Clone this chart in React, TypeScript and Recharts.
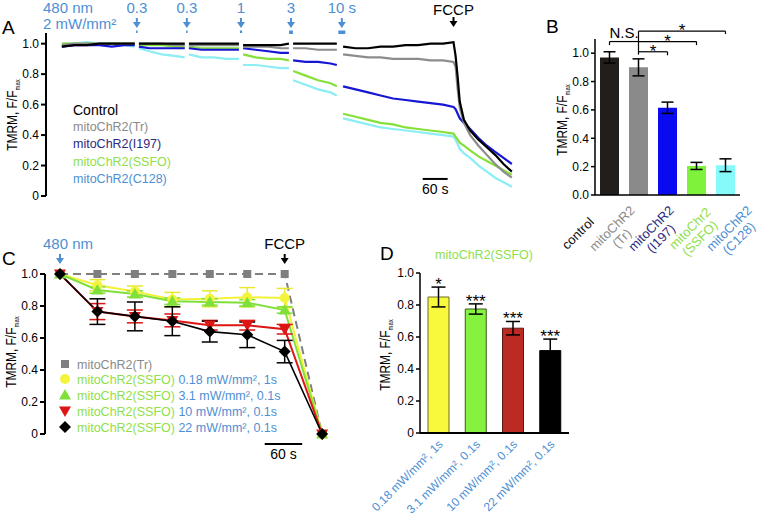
import React from "react";
import {
  LineChart,
  ComposedChart,
  Line,
  Bar,
  XAxis,
  YAxis,
  ErrorBar,
  Cell,
  LabelList,
  ReferenceDot,
  ReferenceLine,
} from "recharts";

const FONT = "'Liberation Sans', Arial, Helvetica, sans-serif";
const SKY = "#4e8fd3";
const LIME = "#8fe04a";
const NAVY = "#2c2a80";
const GREY = "#8a8a8a";

// ---- A: TMRM traces, time in s (null = gap at a light pulse)
const timeA = [0, 30, 60, 90, 120, 150, 175, 180, 185, 210, 240, 270, 295, 300, 305, 335, 365, 395, 425, 430, 435, 465, 495, 525, 545, 550, 555, 585, 615, 645, 660, 670, 675, 705, 735, 765, 795, 825, 855, 885, 915, 940, 945, 950, 955, 965, 980, 1000, 1020, 1040, 1060, 1080];
const controlA = [0.98, 0.99, 0.99, 1.0, 1.0, 1.0, 1.0, null, 1.0, 1.0, 1.0, 1.0, 1.0, null, 1.0, 1.0, 1.0, 1.0, 1.0, null, 0.99, 0.99, 0.99, 0.99, 1.0, null, 1.0, 1.0, 1.0, 1.0, 1.0, null, 0.98, 0.97, 0.97, 0.98, 0.98, 0.99, 0.99, 1.0, 1.0, 1.01, 0.92, 0.78, 0.62, 0.5, 0.43, 0.37, 0.32, 0.27, 0.21, 0.16];
const trA = [0.99, 1.0, 1.0, 1.0, 1.0, 1.0, 1.0, null, 1.0, 1.0, 1.0, 0.99, 0.99, null, 0.99, 0.99, 0.99, 0.99, 0.99, null, 0.98, 0.98, 0.98, 0.97, 0.97, null, 0.97, 0.97, 0.96, 0.96, 0.96, null, 0.93, 0.92, 0.91, 0.91, 0.9, 0.9, 0.9, 0.89, 0.89, 0.88, 0.85, 0.7, 0.58, 0.48, 0.4, 0.33, 0.27, 0.21, 0.16, 0.12];
const i197A = [0.98, 0.99, 0.99, 0.99, 0.98, 0.99, 0.99, null, 0.98, 0.97, 0.97, 0.97, 0.97, null, 0.97, 0.96, 0.96, 0.96, 0.96, null, 0.97, 0.96, 0.95, 0.94, 0.94, null, 0.89, 0.88, 0.88, 0.87, 0.86, null, 0.72, 0.7, 0.68, 0.66, 0.64, 0.63, 0.62, 0.61, 0.6, 0.585, 0.57, 0.54, 0.51, 0.48, 0.44, 0.38, 0.33, 0.29, 0.25, 0.21];
const ssfoA = [1.0, 1.0, 1.0, 1.0, 1.0, 1.0, 1.0, null, 0.99, 0.99, 0.99, 0.98, 0.98, null, 0.98, 0.97, 0.97, 0.97, 0.97, null, 0.93, 0.91, 0.9, 0.9, 0.89, null, 0.82, 0.79, 0.76, 0.74, 0.72, null, 0.54, 0.52, 0.5, 0.48, 0.47, 0.45, 0.44, 0.43, 0.42, 0.41, 0.39, 0.37, 0.35, 0.33, 0.3, 0.26, 0.23, 0.2, 0.17, 0.14];
const c128A = [1.0, 1.0, 1.01, 1.0, 1.0, 0.99, 0.98, null, 0.97, 0.95, 0.93, 0.92, 0.91, null, 0.93, 0.91, 0.91, 0.9, 0.9, null, 0.86, 0.86, 0.85, 0.84, 0.84, null, 0.76, 0.73, 0.7, 0.68, 0.66, null, 0.51, 0.49, 0.47, 0.45, 0.44, 0.43, 0.42, 0.41, 0.4, 0.39, 0.37, 0.34, 0.31, 0.28, 0.25, 0.2, 0.16, 0.12, 0.09, 0.06];

const stimTimes = [180, 300, 430, 550, 672];
const stimLabels = ["0.3", "0.3", "1", "3", "10 s"];
const stimDur = [0.3, 0.3, 1, 3, 10];
const fccpTimeA = 940;

const legendA = ["Control", "mitoChR2(Tr)", "mitoChR2(I197)", "mitoChR2(SSFO)", "mitoChR2(C128)"];

// ---- B: end-of-protocol TMRM
const bIds = ["control", "Tr", "I197", "SSFO", "C128"];
const bTickText = [["control"], ["mitoChR2", "(Tr)"], ["mitoChR2", "(I197)"], ["mitoChr2", "(SSFO)"], ["mitoChR2", "(C128)"]];
const bMeans = [0.97, 0.9, 0.615, 0.205, 0.21];
const bSem = [0.04, 0.06, 0.04, 0.025, 0.045];

// ---- C: SSFO at several intensities, time in s
const timeC = [0, 60, 120, 180, 240, 300, 360, 420];
const trC = [1, 1, 1, 1, 1, 1, 1, 0];
const yelC = [1, 0.93, 0.89, 0.84, 0.845, 0.855, 0.85, 0];
const yelErr = [0, 0.035, 0.035, 0.045, 0.05, 0.06, 0.06, 0];
const grnC = [1, 0.9, 0.875, 0.83, 0.825, 0.82, 0.775, 0];
const grnErr = [0, 0.02, 0.02, 0.02, 0.02, 0.02, 0.02, 0];
const redC = [1, 0.765, 0.735, 0.71, 0.68, 0.68, 0.655, 0];
const redErr = [0, 0.05, 0.04, 0.04, 0.03, 0.03, 0.03, 0];
const blkC = [1, 0.765, 0.735, 0.705, 0.64, 0.62, 0.515, 0];
const blkErr = [0, 0.08, 0.09, 0.09, 0.065, 0.08, 0.07, 0];
const fccpTimeC = 360;
const doseLabels = ["0.18 mW/mm\u00b2, 1s", "3.1 mW/mm\u00b2, 0.1s", "10 mW/mm\u00b2, 0.1s", "22 mW/mm\u00b2, 0.1s"];

// ---- D: SSFO summary
const dMeans = [0.85, 0.775, 0.655, 0.515];
const dSem = [0.062, 0.032, 0.042, 0.072];
const dStars = ["*", "***", "***", "***"];

const yTicks = [0, 0.2, 0.4, 0.6, 0.8, 1.0];
const fmt0 = (v: number) => (v === 0 ? "0" : v.toFixed(1));
const axisTick = { fill: "#000", fontSize: 12, fontFamily: FONT };

const traceColors: Record<string, string> = {
  c128: "#8aeef4",
  ssfo: "#86e03c",
  i197: "#1616d4",
  tr: "#8c8c8c",
  control: "#000000",
};
const legendColorsA = ["#000", GREY, NAVY, LIME, SKY];
const bFill = ["#221e1b", "#8a8a8a", "#0a0af0", "#7ff23c", "#86fafa"];
const bTickColor = ["#111", GREY, NAVY, LIME, SKY];
const dFill = ["#f8f83c", "#84f23e", "#bb2b22", "#000"];
const dStroke = ["#6d6a2a", "#3d5a20", "#5a1a14", "#000"];

// markers for panel C
const square = (cx: number, cy: number, k?: any) => <rect key={k} x={cx - 4} y={cy - 4} width={8} height={8} fill="#7f7f7f" />;
const circle = (cx: number, cy: number, k?: any) => <circle key={k} cx={cx} cy={cy} r={5} fill="#f4f43c" />;
const triUp = (cx: number, cy: number, k?: any) => <path key={k} d={`M${cx},${cy - 6}L${cx + 6},${cy + 4.5}L${cx - 6},${cy + 4.5}Z`} fill="#7fe03a" />;
const triDown = (cx: number, cy: number, k?: any) => <path key={k} d={`M${cx},${cy + 6}L${cx + 6},${cy - 4.5}L${cx - 6},${cy - 4.5}Z`} fill="#dd1515" />;
const diamond = (cx: number, cy: number, k?: any) => <path key={k} d={`M${cx},${cy - 6}L${cx + 6},${cy}L${cx},${cy + 6}L${cx - 6},${cy}Z`} fill="#000" />;
const dotOf = (fn: typeof square) => (p: any) => (p.cy == null ? <g key={p.index} /> : fn(p.cx, p.cy, p.index));

function stimShape(label: string, dur: number) {
  return (p: any) => {
    const { cx, cy } = p;
    const w = Math.max(1.5, Math.sqrt(dur) * 2.2);
    return (
      <g>
        <text x={cx} y={cy - 20} textAnchor="middle" fontSize={15} fontFamily={FONT} fill={SKY}>{label}</text>
        <line x1={cx} x2={cx} y1={cy - 15} y2={cy - 10} stroke={SKY} strokeWidth={2} />
        <path d={`M${cx - 4},${cy - 11}L${cx + 4},${cy - 11}L${cx},${cy - 5}Z`} fill={SKY} />
        <rect x={cx - w / 2} y={cy - 2.5} width={w} height={dur >= 3 ? 3.5 : 2.5} fill={SKY} />
      </g>
    );
  };
}

// label + down arrow; offsets measured upward from the anchor point
function arrowShape(label: string, color: string, textDx: number, textUp: number, stemUp: number, tipUp: number) {
  return (p: any) => {
    const { cx, cy } = p;
    return (
      <g>
        <text x={cx + textDx} y={cy - textUp} textAnchor="middle" fontSize={15} fontFamily={FONT} fill={color}>{label}</text>
        <line x1={cx} x2={cx} y1={cy - stemUp} y2={cy - tipUp - 5} stroke={color} strokeWidth={2} />
        <path d={`M${cx - 4},${cy - tipUp - 6}L${cx + 4},${cy - tipUp - 6}L${cx},${cy - tipUp}Z`} fill={color} />
      </g>
    );
  };
}

const scaleText = (p: any) => (
  <text x={p.cx} y={p.cy + 15} textAnchor="middle" fontSize={14} fontFamily={FONT} fill="#000">60 s</text>
);

function PanelA() {
  const rows = timeA.map((t, i) => ({ t, control: controlA[i], tr: trA[i], i197: i197A[i], ssfo: ssfoA[i], c128: c128A[i] }));
  return (
    <div style={{ position: "absolute", left: 0, top: 0 }}>
      <LineChart width={530} height={240} data={rows} margin={{ top: 33, right: 14, bottom: 44, left: 0 }}>
        <XAxis type="number" dataKey="t" domain={[-38, 1090]} hide />
        <YAxis type="number" width={46} domain={[0, 1.07]} ticks={yTicks} tickFormatter={fmt0}
          axisLine={{ stroke: "#000", strokeWidth: 2 }} tickLine={{ stroke: "#000", strokeWidth: 2 }}
          tickSize={5} tickMargin={2} tick={axisTick} />
        {Object.keys(traceColors).map((k) => (
          <Line key={k} dataKey={k} stroke={traceColors[k]} strokeWidth={2.2} dot={false} isAnimationActive={false} />
        ))}
        {stimTimes.map((t, i) => (
          <ReferenceDot key={i} x={t} y={1.07} ifOverflow="visible" shape={stimShape(stimLabels[i], stimDur[i])} />
        ))}
        <ReferenceDot x={fccpTimeA} y={1.07} ifOverflow="visible" shape={arrowShape("FCCP", "#000", 0, 18, 16, 6)} />
        <ReferenceLine segment={[{ x: 866, y: 0.112 }, { x: 926, y: 0.112 }]} stroke="#000" strokeWidth={2} ifOverflow="visible" />
        <ReferenceDot x={896} y={0.112} ifOverflow="visible" shape={scaleText} />
      </LineChart>
    </div>
  );
}

const BTick = (p: any) => {
  const { x, y, index } = p;
  const lines = bTickText[index];
  const cx = x - 32 + index * 10;
  const cy = y + 38;
  return (
    <g transform={`translate(${cx},${cy}) rotate(-45)`}>
      <text textAnchor="middle" fontSize={13} fontFamily={FONT} fill={bTickColor[index]}>
        {lines.map((l, i) => (
          <tspan key={i} x={0} y={lines.length === 1 ? 5 : -2 + i * 14}>{l}</tspan>
        ))}
      </text>
    </g>
  );
};

const bracketText = (text: string, dy: number, size: number) => (p: any) => {
  const vb = p.viewBox || {};
  return (
    <text x={vb.x + (vb.width || 0) / 2} y={vb.y + dy} textAnchor="middle" fontSize={size} fontFamily={FONT} fill="#000">{text}</text>
  );
};

function PanelB() {
  const rows = bIds.map((id, i) => ({ id, v: bMeans[i], e: bSem[i] }));
  const seg = (a: string, ya: number, b: string, yb: number, label?: any) => (
    <ReferenceLine segment={[{ x: a, y: ya }, { x: b, y: yb }]} stroke="#000" strokeWidth={1.2} ifOverflow="visible" label={label} />
  );
  return (
    <div style={{ position: "absolute", left: 530, top: 0 }}>
      <ComposedChart width={240} height={300} data={rows} margin={{ top: 39, right: 30, bottom: 0, left: 0 }}>
        <XAxis dataKey="id" height={105} interval={0} tickSize={0} tickMargin={0} tickLine={false}
          axisLine={{ stroke: "#000", strokeWidth: 1.5 }} tick={<BTick />} />
        <YAxis type="number" width={65} domain={[0, 1.1]} ticks={yTicks} tickFormatter={(v: number) => v.toFixed(1)}
          axisLine={{ stroke: "#000", strokeWidth: 1.5 }} tickLine={{ stroke: "#000", strokeWidth: 1.5 }}
          tickSize={4} tickMargin={2} tick={axisTick} />
        <Bar dataKey="v" barSize={19} isAnimationActive={false}>
          {rows.map((r, i) => <Cell key={r.id} fill={bFill[i]} />)}
          <ErrorBar dataKey="e" width={6} stroke="#000" strokeWidth={1.5} />
        </Bar>
        {seg("Tr", 1.155, "C128", 1.155, bracketText("*", 5, 17))}
        {seg("C128", 1.155, "C128", 1.135)}
        {seg("control", 1.082, "Tr", 1.082, bracketText("N.S.", -4, 15))}
        {seg("Tr", 1.082, "SSFO", 1.082, bracketText("*", 5, 17))}
        {seg("control", 1.082, "control", 1.057)}
        {seg("SSFO", 1.082, "SSFO", 1.057)}
        {seg("Tr", 1.01, "I197", 1.01, bracketText("*", 5, 17))}
        {seg("I197", 1.01, "I197", 0.985)}
        {seg("Tr", 1.155, "Tr", 0.99)}
      </ComposedChart>
    </div>
  );
}

function PanelC() {
  const rows = timeC.map((t, i) => ({
    t, tr: trC[i], yel: yelC[i], yelE: yelErr[i], grn: grnC[i], grnE: grnErr[i],
    red: redC[i], redE: redErr[i], blk: blkC[i], blkE: blkErr[i],
  }));
  return (
    <div style={{ position: "absolute", left: 0, top: 220 }}>
      <LineChart width={380} height={296} data={rows} margin={{ top: 54, right: 46, bottom: 82, left: 0 }}>
        <XAxis type="number" dataKey="t" domain={[-24, 439]} hide />
        <YAxis type="number" width={45} domain={[0, 1]} ticks={yTicks} tickFormatter={fmt0}
          axisLine={{ stroke: "#000", strokeWidth: 2 }} tickLine={{ stroke: "#000", strokeWidth: 2 }}
          tickSize={5} tickMargin={2} tick={axisTick} />
        <Line dataKey="tr" stroke="#7f7f7f" strokeWidth={2} strokeDasharray="8 5" dot={dotOf(square)} isAnimationActive={false} />
        <Line dataKey="yel" stroke="#f2f23a" strokeWidth={2} dot={dotOf(circle)} isAnimationActive={false}>
          <ErrorBar dataKey="yelE" direction="y" width={8} stroke="#e8e830" strokeWidth={1.5} />
        </Line>
        <Line dataKey="grn" stroke="#7fe03a" strokeWidth={2} dot={dotOf(triUp)} isAnimationActive={false}>
          <ErrorBar dataKey="grnE" direction="y" width={8} stroke="#7fe03a" strokeWidth={1.5} />
        </Line>
        <Line dataKey="red" stroke="#dd1515" strokeWidth={2} dot={dotOf(triDown)} isAnimationActive={false}>
          <ErrorBar dataKey="redE" direction="y" width={8} stroke="#dd1515" strokeWidth={1.5} />
        </Line>
        <Line dataKey="blk" stroke="#000" strokeWidth={1.6} dot={dotOf(diamond)} isAnimationActive={false}>
          <ErrorBar dataKey="blkE" direction="y" width={8} stroke="#000" strokeWidth={1.5} />
        </Line>
        <ReferenceDot x={0} y={1} ifOverflow="visible" shape={arrowShape("480 nm", SKY, 8, 25, 20, 10)} />
        <ReferenceDot x={fccpTimeC} y={1} ifOverflow="visible" shape={arrowShape("FCCP", "#000", 0, 25, 20, 10)} />
        <ReferenceLine segment={[{ x: 328, y: -0.0625 }, { x: 388, y: -0.0625 }]} stroke="#000" strokeWidth={2} ifOverflow="visible" />
        <ReferenceDot x={358} y={-0.0625} ifOverflow="visible" shape={scaleText} />
      </LineChart>
    </div>
  );
}

const DTick = (p: any) => {
  const { x, y, index } = p;
  return (
    <g transform={`translate(${x + 5},${y + 12}) rotate(-45)`}>
      <text textAnchor="end" fontSize={12} fontFamily={FONT} fill={SKY}>{doseLabels[index]}</text>
    </g>
  );
};

const StarLabel = (p: any) => {
  const { x, y, width, height, index } = p;
  const perUnit = height / dMeans[index];
  const top = y - dSem[index] * perUnit;
  return (
    <text x={x + width / 2} y={top + 3} textAnchor="middle" fontSize={17} fontFamily={FONT} fill="#000">{dStars[index]}</text>
  );
};

function PanelD() {
  const rows = doseLabels.map((name, i) => ({ name, v: dMeans[i], e: dSem[i] }));
  return (
    <div style={{ position: "absolute", left: 340, top: 240 }}>
      <ComposedChart width={417} height={276} data={rows} margin={{ top: 33, right: 188, bottom: 0, left: 0 }}>
        <XAxis dataKey="name" height={83} interval={0} tickSize={0} tickMargin={0} tickLine={false}
          axisLine={{ stroke: "#000", strokeWidth: 2 }} tick={<DTick />} />
        <YAxis type="number" width={80} domain={[0, 1]} ticks={yTicks} tickFormatter={fmt0}
          axisLine={{ stroke: "#000", strokeWidth: 1.5 }} tickLine={{ stroke: "#000", strokeWidth: 1.5 }}
          tickSize={4} tickMargin={2} tick={axisTick} />
        <Bar dataKey="v" barSize={21} isAnimationActive={false}>
          {rows.map((r, i) => <Cell key={i} fill={dFill[i]} stroke={dStroke[i]} strokeWidth={1} />)}
          <ErrorBar dataKey="e" width={7} stroke="#000" strokeWidth={1.5} />
          <LabelList dataKey="v" content={StarLabel} />
        </Bar>
      </ComposedChart>
    </div>
  );
}

function YLabel({ x, y }: { x: number; y: number }) {
  return (
    <g transform={`translate(${x},${y}) rotate(-90) scale(0.85,1)`}>
      <text x={0} y={0} textAnchor="middle" fontSize={14} fontFamily={FONT} fill="#000">
        TMRM, F/F<tspan fontSize={7} dy={3}>max</tspan>
      </text>
    </g>
  );
}

function Overlay() {
  const legC = [square, circle, triUp, triDown, diamond];
  const legCy = [364, 379, 395, 411, 427];
  const legAy = [115, 131, 148, 166, 183];
  return (
    <svg width={757} height={516} style={{ position: "absolute", left: 0, top: 0, pointerEvents: "none" }}>
      <g fontFamily={FONT}>
        <text x={2} y={34} fontSize={19}>A</text>
        <text x={546} y={33} fontSize={19}>B</text>
        <text x={2} y={265} fontSize={19}>C</text>
        <text x={380} y={260} fontSize={19}>D</text>
        <text x={43} y={13} fontSize={15} fill={SKY}>480 nm</text>
        <text x={43} y={29} fontSize={15} fill={SKY}>2 mW/mm{"\u00b2"}</text>
        {legendA.map((s, i) => (
          <text key={s} x={73} y={legAy[i]} fontSize={i === 0 ? 14 : 12.5} fill={legendColorsA[i]}>{s}</text>
        ))}
        {legC.map((fn, i) => (
          <g key={i}>
            {fn(65, legCy[i])}
            {i === 0 ? (
              <text x={77} y={legCy[i] + 4.5} fontSize={12.5} fill={GREY}>mitoChR2(Tr)</text>
            ) : (
              <text x={77} y={legCy[i] + 4.5} fontSize={12.5} fill={LIME}>
                mitoChR2(SSFO) <tspan fill={SKY}>{doseLabels[i - 1]}</tspan>
              </text>
            )}
          </g>
        ))}
        <text x={484} y={259} fontSize={12.5} fill={LIME} textAnchor="middle">mitoChR2(SSFO)</text>
      </g>
      <YLabel x={17} y={115} />
      <YLabel x={567} y={120} />
      <YLabel x={16} y={352} />
      <YLabel x={390} y={355} />
    </svg>
  );
}

export default function App() {
  return (
    <div style={{ position: "absolute", left: 0, top: 0, width: 757, height: 516, background: "#fff", overflow: "hidden" }}>
      <PanelA />
      <PanelB />
      <PanelC />
      <PanelD />
      <Overlay />
    </div>
  );
}
